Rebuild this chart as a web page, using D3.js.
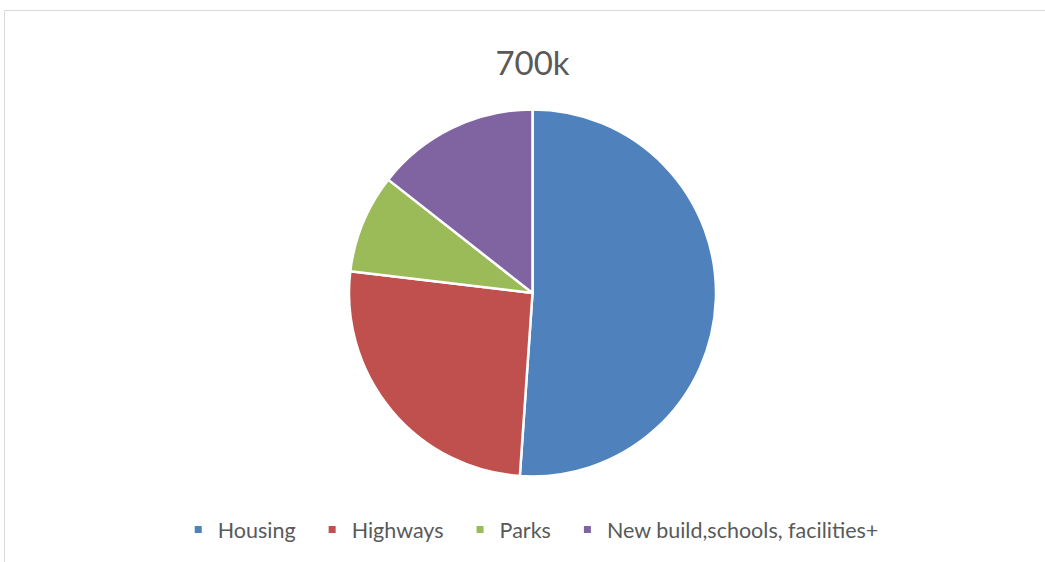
<!DOCTYPE html>
<html>
<head>
<meta charset="utf-8">
<script src="https://cdn.jsdelivr.net/npm/d3@7"></script>
<style>
  body { margin:0; background:#fff; }
  svg { display:block; }
</style>
</head>
<body>
<svg id="chart" width="1045" height="562"></svg>
<script>
// data (share of 700k)
var categories = ["Housing", "Highways", "Parks", "New build,schools, facilities+"];
var values = [51.1, 25.8, 8.7, 14.4];
var colors = ["#4F81BD", "#C0504D", "#9BBB59", "#8064A2"];
var title = "700k";

var width = 1045, height = 562;
var center = { x: 532.5, y: 293 };
var radius = 183.5;

var svg = d3.select("#chart");

// chart frame (cropped at top-left)
svg.append("path")
    .attr("d", "M4.5,562 L4.5,10.5 L1045,10.5")
    .attr("fill", "none")
    .attr("stroke", "#d9d9d9")
    .attr("stroke-width", 1);

// title
svg.append("text")
    .attr("x", center.x)
    .attr("y", 75)
    .attr("text-anchor", "middle")
    .attr("font-family", "Lato, 'Open Sans', sans-serif")
    .attr("font-size", "33px")
    .attr("fill", "#595959")
    .text(title);

var color = d3.scaleOrdinal().domain(categories).range(colors);

var pie = d3.pie().sort(null).value(function(d){ return d.value; });
var arc = d3.arc().innerRadius(0).outerRadius(radius);

var data = categories.map(function(c, i){ return { name: c, value: values[i] }; });

var g = svg.append("g")
    .attr("transform", "translate(" + center.x + "," + center.y + ")");

g.selectAll("path")
    .data(pie(data))
    .enter().append("path")
      .attr("d", arc)
      .attr("fill", function(d){ return color(d.data.name); })
      .attr("stroke", "#fff")
      .attr("stroke-width", 2.5)
      .attr("stroke-linejoin", "round");

// legend
var legend = svg.append("g");
var item = legend.selectAll("g")
    .data(categories)
    .enter().append("g");

item.append("rect")
    .attr("width", 7)
    .attr("height", 7)
    .attr("y", -4)
    .attr("fill", function(d){ return color(d); });

item.append("text")
    .attr("x", 23)
    .attr("y", 7.5)
    .attr("font-family", "Lato, 'Open Sans', sans-serif")
    .attr("font-size", "21.5px")
    .attr("fill", "#595959")
    .text(function(d){ return d; });

var gap = 33;
var xpos = 0;
item.each(function(){
  var w = d3.select(this).select("text").node().getComputedTextLength();
  d3.select(this).attr("transform", "translate(" + xpos + ",0)");
  xpos += 23 + w + gap;
});
var total = xpos - gap;
legend.attr("transform", "translate(" + (536.5 - total / 2) + ",530)");
</script>
</body>
</html>
